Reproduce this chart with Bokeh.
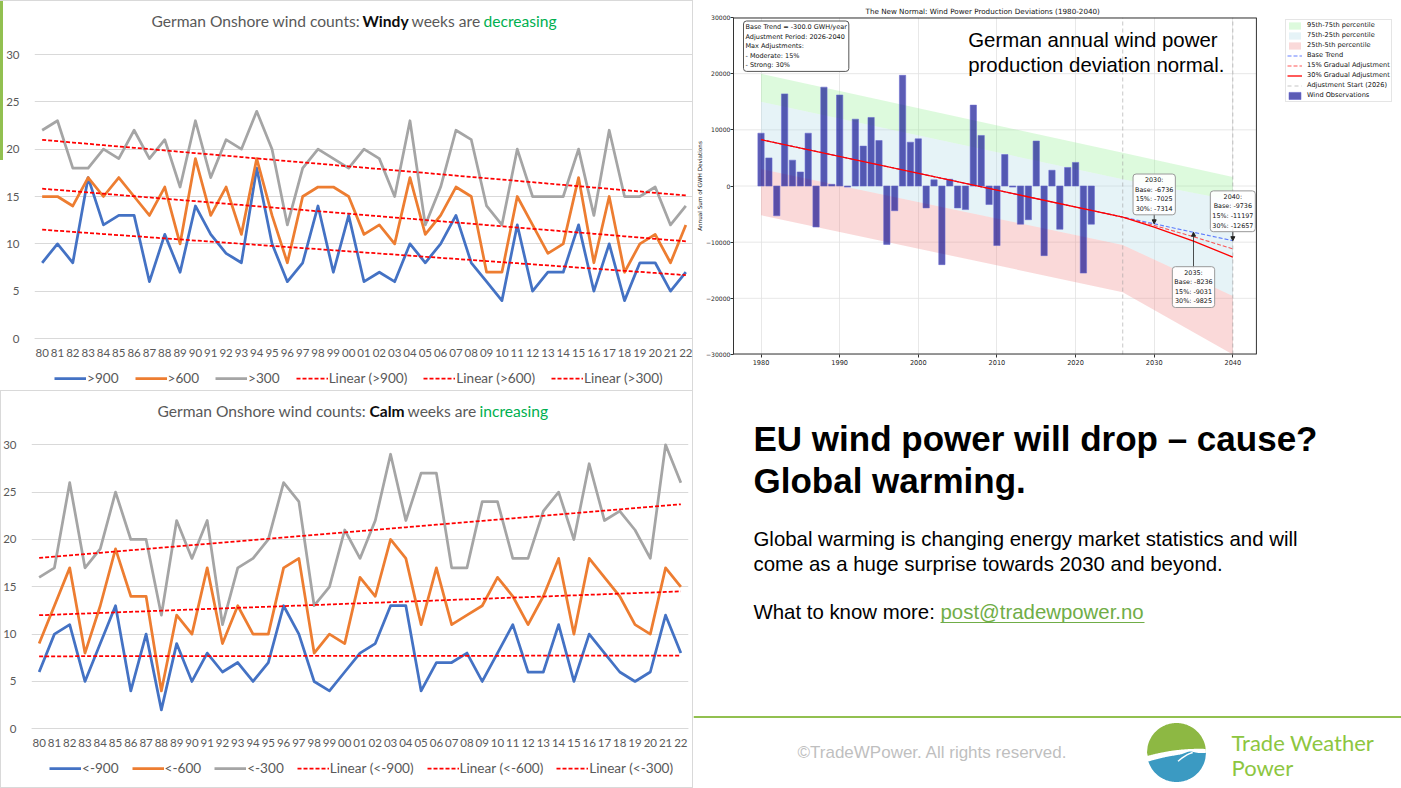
import numpy as np
from bokeh.plotting import figure
from bokeh.layouts import row, column
from bokeh.models import (FactorRange, Range1d, Legend, LegendItem, Label,
                          FixedTicker, Arrow, NormalHead, Span)
from bokeh.embed import file_html
from bokeh.resources import INLINE

# ---------------- data ----------------
year_labels = ["80", "81", "82", "83", "84", "85", "86", "87", "88", "89",
               "90", "91", "92", "93", "94", "95", "96", "97", "98", "99",
               "00", "01", "02", "03", "04", "05", "06", "07", "08", "09",
               "10", "11", "12", "13", "14", "15", "16", "17", "18", "19",
               "20", "21", "22"]

windy_900 = [8, 10, 8, 17, 12, 13, 13, 6, 11, 7, 14, 11, 9, 8, 18, 10, 6, 8, 14, 7,
             13, 6, 7, 6, 10, 8, 10, 13, 8, 6, 4, 12, 5, 7, 7, 12, 5, 10, 4, 8, 8, 5, 7]
windy_600 = [15, 15, 14, 17, 15, 17, 15, 13, 16, 10, 19, 13, 16, 11, 19, 13, 8, 15, 16, 16,
             15, 11, 12, 10, 17, 11, 13, 16, 15, 7, 7, 15, 12, 9, 10, 17, 8, 15, 7, 10, 11, 8, 12]
windy_300 = [22, 23, 18, 18, 20, 19, 22, 19, 21, 16, 23, 17, 21, 20, 24, 20, 12, 18, 20, 19,
             18, 20, 19, 15, 23, 12, 16, 22, 21, 14, 12, 20, 15, 15, 15, 20, 13, 22, 15, 15, 16, 12, 14]

calm_900 = [6, 10, 11, 5, 9, 13, 4, 10, 2, 9, 5, 8, 6, 7, 5, 7, 13, 10, 5, 4,
            6, 8, 9, 13, 13, 4, 7, 7, 8, 5, 8, 11, 6, 6, 11, 5, 10, 8, 6, 5, 6, 12, 8]
calm_600 = [9, 13, 17, 8, 13, 19, 14, 14, 4, 12, 10, 17, 9, 13, 10, 10, 17, 18, 8, 10,
            9, 16, 14, 20, 18, 11, 17, 11, 12, 13, 16, 14, 11, 14, 18, 10, 18, 16, 14, 11, 10, 17, 15]
calm_300 = [16, 17, 26, 17, 19, 25, 20, 20, 12, 22, 18, 22, 11, 17, 18, 20, 26, 24, 13, 15,
            21, 18, 22, 29, 22, 27, 27, 17, 17, 24, 24, 18, 18, 23, 25, 20, 28, 22, 23, 21, 18, 30, 26]

windy_names = [">900", ">600", ">300"]
calm_names = ["<-900", "<-600", "<-300"]
count_ticks = [0, 5, 10, 15, 20, 25, 30]

obs_years = [1980, 1981, 1982, 1983, 1984, 1985, 1986, 1987, 1988, 1989,
             1990, 1991, 1992, 1993, 1994, 1995, 1996, 1997, 1998, 1999,
             2000, 2001, 2002, 2003, 2004, 2005, 2006, 2007, 2008, 2009,
             2010, 2011, 2012, 2013, 2014, 2015, 2016, 2017, 2018, 2019,
             2020, 2021, 2022]
obs_values = [9400, 5000, -5300, 16400, 4600, 2500, 9400, -7300, 17600, 300,
              16200, -200, 11900, 7100, 12200, 8100, -10400, -4400, 19700, 7800,
              8400, -3900, 1100, -14000, 1200, -3900, -4200, 14400, 9000, -3300,
              -10600, 5600, -200, -6800, -6000, 8000, -12400, 2800, -7700, 3300,
              4200, -15500, -6800]

proj_years = [1980, 2026, 2030, 2035, 2040]
base_trend = [8264, -5536, -6736, -8236, -9736]
adj_15 = [8264, -5536, -7025, -9031, -11197]
adj_30 = [8264, -5536, -7314, -9825, -12657]

band_years = [1980, 2026, 2040]
p95 = [20000, 5900, 1600]
p75 = [15000, 1200, -2600]
p25 = [3000, -10500, -19600]
p05 = [-5200, -18900, -30000]

trend_slope = -300.0
adj_start, adj_end = 2026, 2040
adj_moderate, adj_strong = 15, 30
mpl_xticks = [1980, 1990, 2000, 2010, 2020, 2030, 2040]
mpl_yticks = [-30000, -20000, -10000, 0, 10000, 20000, 30000]

# ---------------- excel style charts ----------------
EX_FONT = "Lato"
TXT_GRAY = "#595959"
EX_COLORS = ["#4472C4", "#ED7D31", "#A5A5A5"]
PX_PER_UNIT = 284.0 / 30


def excel_chart(fig_h, fl, fr, zero_px, series, names, title_parts, legend_x,
                legend_spacing, legend_center, extra_style):
    # the frame fills the whole height; the value axis keeps 0..30 between px 54 and 338
    y_start = -(fig_h - zero_px) / PX_PER_UNIT
    y_end = 30 + (zero_px - 284.0) / PX_PER_UNIT
    p = figure(width=693, height=fig_h, x_range=FactorRange(*year_labels),
               y_range=Range1d(y_start, y_end), output_backend="svg",
               toolbar_location=None, min_border_left=fl, min_border_right=fr,
               min_border_top=0, min_border_bottom=0)
    p.outline_line_color = None
    p.background_fill_color = None
    p.border_fill_color = None
    p.styles = extra_style
    p.xgrid.grid_line_color = None
    p.ygrid.grid_line_color = "#D9D9D9"
    p.ygrid.grid_line_width = 1
    p.yaxis.ticker = FixedTicker(ticks=count_ticks)
    p.yaxis.axis_line_color = None
    p.yaxis.major_tick_line_color = None
    p.yaxis.minor_tick_line_color = None
    p.yaxis.major_label_standoff = 9
    p.xaxis.fixed_location = 0
    p.xaxis.axis_line_color = "#D9D9D9"
    p.xaxis.major_tick_line_color = None
    p.xaxis.minor_tick_line_color = None
    p.xaxis.major_label_standoff = 4
    for ax in (p.xaxis, p.yaxis):
        ax.major_label_text_font = EX_FONT
        ax.major_label_text_font_size = "11.5px"
        ax.major_label_text_color = TXT_GRAY

    rs = []
    for s, c in zip(series, EX_COLORS):
        rs.append(p.line(year_labels, s, line_color=c, line_width=2.75,
                         line_join="round"))
    idx = np.arange(len(year_labels))
    trs = []
    for s in series:
        k, b = np.polyfit(idx, np.array(s, dtype=float), 1)
        trs.append(p.line(year_labels, b + k * idx, line_color="#FF0000",
                          line_width=1.75, line_dash="4 2"))

    items = [LegendItem(label=n, renderers=[r]) for n, r in zip(names, rs)]
    items += [LegendItem(label="Linear (%s)" % n, renderers=[r]) for n, r in zip(names, trs)]
    leg = Legend(items=items, orientation="horizontal",
                 location=(legend_x, fig_h - legend_center - 10),
                 glyph_width=32, glyph_height=20, label_height=20, label_standoff=1,
                 spacing=legend_spacing, padding=0, margin=0,
                 border_line_color=None, background_fill_alpha=0,
                 label_text_font=EX_FONT, label_text_font_size="13.6px",
                 label_text_color=TXT_GRAY)
    p.add_layout(leg)

    for txt, x, col, style in title_parts:
        p.add_layout(Label(x=x - fl, y=fig_h - 20.7, x_units="screen", y_units="screen",
                           text=txt, text_font=EX_FONT, text_font_size="15.6px",
                           text_color=col, text_font_style=style,
                           text_baseline="middle", text_align="left"))
    return p


p1 = excel_chart(390, 34, 0, 338.0, [windy_900, windy_600, windy_300], windy_names,
                 [("German Onshore wind counts:", 151, TXT_GRAY, "normal"),
                  ("Windy", 362, "#0D0D0D", "bold"),
                  ("weeks are", 411, TXT_GRAY, "normal"),
                  ("decreasing", 483, "#00B050", "normal")], 20, 16, 378.0,
                 {"background": "linear-gradient(#92C050, #92C050) 0 0 / 3px 160px no-repeat, white",
                  "box-shadow": "inset -1px 1px 0 0 #D9D9D9"})

p2 = excel_chart(398, 30, 5, 338.3, [calm_900, calm_600, calm_300], calm_names,
                 [("German Onshore wind counts:", 156, TXT_GRAY, "normal"),
                  ("Calm", 368, "#0D0D0D", "bold"),
                  ("weeks are", 406, TXT_GRAY, "normal"),
                  ("increasing", 478, "#00B050", "normal")], 18, 13, 377.7,
                 {"background": "white", "box-shadow": "inset 0 0 0 1px #D9D9D9"})

# ---------------- matplotlib style chart ----------------
MPL_FONT = "DejaVu Sans"
AX_LO, AX_HI = 1976.5, 2043.0          # axes limits of the plotting box
Y_LO, Y_HI = -30000, 30000
p3 = figure(width=708, height=370, x_range=Range1d(AX_LO, 2061.45),
            y_range=Range1d(Y_LO, Y_HI), output_backend="svg",
            toolbar_location=None, min_border_left=40, min_border_right=0,
            min_border_top=17, min_border_bottom=16)
p3.outline_line_color = None
p3.xaxis.ticker = FixedTicker(ticks=mpl_xticks)
p3.yaxis.ticker = FixedTicker(ticks=mpl_yticks)
for ax in (p3.xaxis, p3.yaxis):
    ax.major_tick_line_color = "#333333"
    ax.major_tick_out = 3
    ax.major_tick_in = 0
    ax.minor_tick_line_color = None
    ax.major_label_text_font = MPL_FONT
    ax.major_label_text_color = "#262626"
p3.xaxis.major_label_standoff = 2
p3.xaxis.major_label_text_font_size = "6.6px"
p3.yaxis.major_label_standoff = 0
p3.yaxis.major_label_text_font_size = "6.1px"
p3.xaxis.axis_line_color = None
p3.yaxis.axis_line_color = "#333333"
p3.yaxis.axis_label = "Annual Sum of GWH Deviations"
p3.yaxis.axis_label_text_font = MPL_FONT
p3.yaxis.axis_label_text_font_size = "5.7px"
p3.yaxis.axis_label_text_font_style = "normal"
p3.yaxis.axis_label_text_color = "#111111"
p3.yaxis.axis_label_standoff = 0
p3.title.text = "The New Normal: Wind Power Production Deviations (1980-2040)"
p3.title.text_font = MPL_FONT
p3.title.text_font_size = "7.2px"
p3.title.text_font_style = "normal"
p3.title.text_color = "#111111"
p3.title.align = "left"
p3.title.offset = 132
p3.title.standoff = 3
p3.xgrid.grid_line_color = "#E2E2E2"
p3.xgrid.grid_line_width = 0.8
p3.ygrid.grid_line_color = None
# horizontal grid lines, limited to the plotting box
p3.segment(x0=[AX_LO] * len(mpl_yticks), y0=mpl_yticks, x1=[AX_HI] * len(mpl_yticks),
           y1=mpl_yticks, line_color="#E2E2E2", line_width=0.8)

r_g = p3.varea(x=band_years, y1=p75, y2=p95, fill_color="#90EE90", fill_alpha=0.3)
r_b = p3.varea(x=band_years, y1=p25, y2=p75, fill_color="#ADD8E6", fill_alpha=0.3)
r_r = p3.varea(x=band_years, y1=p05, y2=p25, fill_color="#F08080", fill_alpha=0.3)
r_obs = p3.vbar(x=obs_years, top=obs_values, width=0.8, fill_color="#00008B",
                fill_alpha=0.64, line_color="#6A6AD0", line_width=0.8, line_alpha=0.7)
r_base = p3.line(proj_years, base_trend, line_color="#3355FF", line_dash="4 2",
                 line_width=1.1, line_alpha=0.75)
r_15 = p3.line(proj_years, adj_15, line_color="#FF2020", line_dash="4 2",
               line_width=1.1, line_alpha=0.75)
r_30 = p3.line(proj_years, adj_30, line_color="#FF0000", line_width=1.3)
r_v = p3.segment(x0=[adj_start, adj_end], y0=[Y_LO, Y_LO], x1=[adj_start, adj_end],
                 y1=[Y_HI, Y_HI], line_color="#999999", line_dash="4 3",
                 line_width=0.8, line_alpha=0.7)
# axes box (spines)
p3.segment(x0=[AX_LO, AX_LO, AX_HI], y0=[Y_LO, Y_HI, Y_LO], x1=[AX_HI, AX_HI, AX_HI],
           y1=[Y_LO, Y_HI, Y_HI], line_color="#333333", line_width=[2, 2, 1])

frame_h3 = 370 - 17 - 16
info = ("Base Trend = %.1f GWH/year\nAdjustment Period: %d-%d\nMax Adjustments:\n"
        "- Moderate: %d%%\n- Strong: %d%%" % (trend_slope, adj_start, adj_end,
                                              adj_moderate, adj_strong))
p3.add_layout(Label(x=10, y=frame_h3 - 3.5, x_units="screen", y_units="screen",
                    text=info, text_font=MPL_FONT, text_font_size="6.5px",
                    text_color="#111111", text_align="left", text_baseline="top",
                    text_line_height=1.2, background_fill_color="white",
                    border_line_color="#555555", border_line_width=1, padding=2,
                    border_radius=3))
p3.add_layout(Label(x=234.7, y=frame_h3 - 35, x_units="screen", y_units="screen",
                    text="German annual wind power\nproduction deviation normal.",
                    text_font="Liberation Sans", text_font_size="20.4px",
                    text_color="#000000", text_align="left", text_baseline="middle",
                    text_line_height=1.18))

ann_box_y = [-1500, -18000, -4500]
ann_arrow_from = [-4650, -14700, -7600]
for i, k in enumerate([2, 3, 4]):
    yr = proj_years[k]
    txt = "%d:\nBase: %d\n15%%: %d\n30%%: %d" % (yr, base_trend[k], adj_15[k], adj_30[k])
    p3.add_layout(Arrow(end=NormalHead(size=4, fill_color="#222222", line_color="#222222"),
                        x_start=yr, y_start=ann_arrow_from[i], x_end=yr, y_end=base_trend[k],
                        line_color="#222222", line_width=0.8))
    p3.add_layout(Label(x=yr, y=ann_box_y[i], text=txt, text_font=MPL_FONT,
                        text_font_size="6.4px", text_color="#111111", text_align="center",
                        text_baseline="middle", text_line_height=1.2,
                        background_fill_color="white", background_fill_alpha=0.9,
                        border_line_color="#999999", border_line_width=1, padding=2,
                        border_radius=3))

leg3 = Legend(items=[LegendItem(label="95th-75th percentile", renderers=[r_g]),
                     LegendItem(label="75th-25th percentile", renderers=[r_b]),
                     LegendItem(label="25th-5th percentile", renderers=[r_r]),
                     LegendItem(label="Base Trend", renderers=[r_base]),
                     LegendItem(label="15% Gradual Adjustment", renderers=[r_15]),
                     LegendItem(label="30% Gradual Adjustment", renderers=[r_30]),
                     LegendItem(label="Adjustment Start (2026)", renderers=[r_v]),
                     LegendItem(label="Wind Observations", renderers=[r_obs])],
              location=(552, 252.3), glyph_width=15, glyph_height=9, label_height=9,
              label_standoff=5, spacing=1, padding=1, margin=0,
              label_text_font=MPL_FONT, label_text_font_size="6.6px",
              label_text_color="#111111", border_line_color="#CCCCCC",
              background_fill_color="white", background_fill_alpha=0.9)
p3.add_layout(leg3)

# ---------------- slide text panel ----------------
SL_FONT = "Liberation Sans"
p4 = figure(width=708, height=418, x_range=Range1d(693, 1401), y_range=Range1d(788, 370),
            output_backend="svg", toolbar_location=None, x_axis_type=None,
            y_axis_type=None, min_border=0)
p4.outline_line_color = None
p4.grid.grid_line_color = None


def slide_text(x, y, txt, size, color="#000000", style="normal"):
    p4.add_layout(Label(x=x, y=y, text=txt, text_font=SL_FONT, text_font_size=size,
                        text_color=color, text_font_style=style, text_align="left",
                        text_baseline="middle"))


slide_text(753, 438, "EU wind power will drop \u2013 cause?", "35px", style="bold")
slide_text(753, 480, "Global warming.", "35px", style="bold")
slide_text(753, 538, "Global warming is changing energy market statistics and will", "20.4px")
slide_text(753, 563, "come as a huge surprise towards 2030 and beyond.", "20.4px")
slide_text(753, 611, "What to know more:", "20.4px")
slide_text(940, 611, "post@tradewpower.no", "20.4px", color="#70AD47")
p4.segment(x0=[940], y0=[622], x1=[1144], y1=[622], line_color="#70AD47", line_width=1)
p4.add_layout(Span(location=716.5, dimension="width", line_color="#92C050", line_width=2))
slide_text(797, 752, "\u00a9TradeWPower. All rights reserved.", "17px", color="#BFBFBF")

# logo: green sun above a blue wave
cx, cy, rr = 1176, 752, 29.5
u = np.linspace(-1, 1, 90)
top_arc = -np.sqrt(1 - u ** 2)
bot_arc = np.sqrt(1 - u ** 2)
g_edge = np.clip(-0.08 - 0.12 * u + 0.08 * u ** 2, top_arc, bot_arc)
b_edge = np.clip(g_edge + 0.14 + 0.06 * (1 - u) / 2
                 - 0.07 * np.exp(-((u - 0.45) / 0.2) ** 2), top_arc, bot_arc)
p4.patch(cx + rr * np.concatenate([u, u[::-1]]),
         cy + rr * np.concatenate([top_arc, g_edge[::-1]]),
         fill_color="#8DB843", line_color=None)
p4.patch(cx + rr * np.concatenate([u, u[::-1]]),
         cy + rr * np.concatenate([b_edge, bot_arc[::-1]]),
         fill_color="#3B9AC2", line_color=None)
uc = np.linspace(0.05, 0.55, 20)
p4.line(cx + rr * uc, cy + rr * (0.30 - 0.9 * (uc - 0.05) + 0.6 * (uc - 0.05) ** 2),
        line_color="white", line_width=1.4)
p4.add_layout(Label(x=1231, y=742, text="Trade Weather", text_font=EX_FONT,
                    text_font_size="22px", text_color="#8DC63F", text_baseline="middle"))
p4.add_layout(Label(x=1231, y=767, text="Power", text_font=EX_FONT,
                    text_font_size="22px", text_color="#8DC63F", text_baseline="middle"))

layout = row(column(p1, row(p2)), column(p3, row(p4)))
open("out.html", "w").write(file_html(layout, INLINE, title="Wind power"))
